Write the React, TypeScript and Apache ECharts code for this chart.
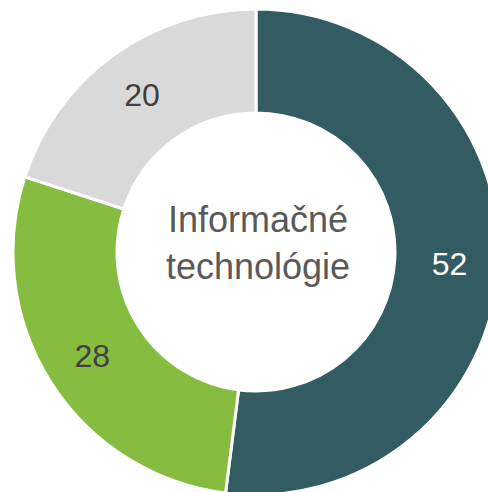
import React, { useEffect, useRef } from "react";
import * as echarts from "echarts";

const categories = ["A", "B", "C"];
const values = [52, 28, 20];
const colors = ["#335C62", "#86BD40", "#D9D9D9"];
const labelColors = ["#FFFFFF", "#404040", "#404040"];
const centerText = "Informačné\ntechnológie";

export default function App() {
  const ref = useRef<HTMLDivElement>(null);
  useEffect(() => {
    const chart = echarts.init(ref.current!, null, { renderer: "svg" });
    chart.setOption({
      animation: false,
      graphic: [
        {
          type: "text",
          x: 258,
          y: 243,
          style: {
            text: centerText,
            fontFamily: "Liberation Sans, Arial, sans-serif",
            fontSize: 36,
            lineHeight: 47,
            fill: "#595959",
            textAlign: "center",
            textVerticalAlign: "middle",
          },
        },
      ],
      series: [
        {
          type: "pie",
          center: [256, 252],
          radius: [139, 243],
          startAngle: 90,
          clockwise: true,
          avoidLabelOverlap: false,
          itemStyle: { borderColor: "#FFFFFF", borderWidth: 3 },
          label: {
            show: true,
            position: "inside",
            formatter: "{c}",
            fontFamily: "Liberation Sans, Arial, sans-serif",
            fontSize: 32,
          },
          labelLine: { show: false },
          emphasis: { disabled: true },
          data: categories.map((c, i) => ({
            name: c,
            value: values[i],
            itemStyle: { color: colors[i] },
            label: { color: labelColors[i] },
          })),
        },
      ],
    });
    return () => chart.dispose();
  }, []);
  return (
    <div
      ref={ref}
      style={{ position: "absolute", left: 0, top: 0, width: 488, height: 492 }}
    />
  );
}
